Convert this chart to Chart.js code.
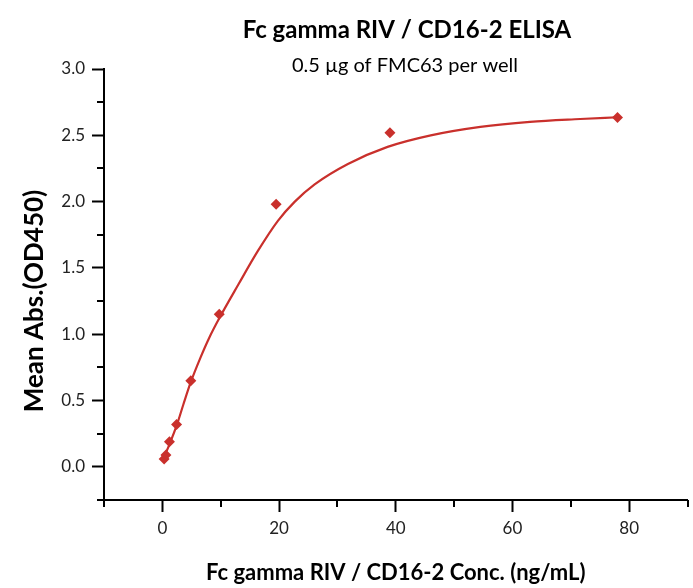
<!DOCTYPE html>
<html>
<head>
<meta charset="utf-8">
<script src="https://cdn.jsdelivr.net/npm/chart.js@4/dist/chart.umd.min.js"></script>
<style>
  html, body { margin: 0; padding: 0; background: #fff; }
  #wrap { width: 693px; height: 588px; }
</style>
</head>
<body>
<div id="wrap"><canvas id="elisa" width="693" height="588"></canvas></div>
<script>
// measured points (ng/mL, OD450)
const concentration = [0.3, 0.61, 1.22, 2.44, 4.88, 9.75, 19.5, 39, 78];
const meanAbs = [0.06, 0.09, 0.19, 0.32, 0.65, 1.15, 1.98, 2.52, 2.635];

// fitted curve
const fitConc = [0.15, 1.22, 2.44, 3.6, 4.88, 6.5, 8, 9.75, 13, 16.4, 19.8, 22.7, 26.1, 31.8, 38.6, 46, 54.5, 63, 71.6, 78];
const fitAbs = [0.06, 0.17, 0.31, 0.47, 0.64, 0.82, 0.97, 1.12, 1.373, 1.63, 1.855, 2.0, 2.13, 2.284, 2.413, 2.5, 2.564, 2.602, 2.623, 2.636];

const xTickValues = [0, 20, 40, 60, 80];
const yTickValues = [0, 0.5, 1.0, 1.5, 2.0, 2.5, 3.0];
const xMinorTicks = [-10, 10, 30, 50, 70, 90];
const yMinorTicks = [-0.25, 0.25, 0.75, 1.25, 1.75, 2.25, 2.75];

const chartTitle = 'Fc gamma RIV / CD16-2 ELISA';
const chartSubtitle = '0.5 \u00b5g of FMC63 per well';
const yTitle = 'Mean Abs.(OD450)';

const red = '#c9302c';
const fontFamily = 'Lato, "Open Sans", sans-serif';

const toPoints = (xs, ys) => xs.map((x, i) => ({ x: x, y: ys[i] }));

// short ticks between the labelled ones, plus the heading texts
const extras = {
  id: 'extras',
  afterDraw(chart) {
    const ctx = chart.ctx;
    const xs = chart.scales.x;
    const ys = chart.scales.y;
    const area = chart.chartArea;
    ctx.save();
    ctx.strokeStyle = '#000';
    ctx.lineWidth = 2;
    ctx.beginPath();
    xMinorTicks.forEach((v) => {
      const px = Math.round(xs.getPixelForValue(v));
      ctx.moveTo(px, area.bottom);
      ctx.lineTo(px, area.bottom + 7);
    });
    yMinorTicks.forEach((v) => {
      const py = Math.round(ys.getPixelForValue(v));
      ctx.moveTo(area.left, py);
      ctx.lineTo(area.left - 7, py);
    });
    ctx.stroke();

    ctx.fillStyle = '#000';
    ctx.textAlign = 'center';
    ctx.textBaseline = 'middle';
    ctx.font = 'bold 24px ' + fontFamily;
    ctx.fillText(chartTitle, 407, 30);
    ctx.font = '20px ' + fontFamily;
    ctx.fillText(chartSubtitle, 405, 66);

    ctx.translate(35, 301);
    ctx.rotate(-Math.PI / 2);
    ctx.font = 'bold 26px ' + fontFamily;
    ctx.fillText(yTitle, 0, 0);
    ctx.restore();
  },
};

const config = {
  type: 'scatter',
  data: {
    datasets: [
      {
        label: 'fit',
        data: toPoints(fitConc, fitAbs),
        showLine: true,
        borderColor: red,
        borderWidth: 2.2,
        pointRadius: 0,
        cubicInterpolationMode: 'monotone',
        order: 2,
      },
      {
        label: 'Mean Abs.',
        data: toPoints(concentration, meanAbs),
        pointStyle: 'rectRot',
        pointRadius: 5.5,
        backgroundColor: red,
        borderColor: red,
        borderWidth: 0,
        order: 1,
      },
    ],
  },
  options: {
    responsive: false,
    animation: false,
    layout: {
      padding: { top: 69, right: 2, left: 0, bottom: 0 },
    },
    plugins: {
      legend: { display: false },
      tooltip: { enabled: false },
    },
    scales: {
      x: {
        type: 'linear',
        min: -10,
        max: 90,
        afterFit: (scale) => { scale.height = 88; },
        afterBuildTicks: (scale) => { scale.ticks = xTickValues.map((v) => ({ value: v })); },
        border: { color: '#000', width: 2 },
        grid: { drawOnChartArea: false, color: '#000', tickLength: 12, tickWidth: 2 },
        ticks: {
          padding: 6,
          color: '#222',
          font: { family: fontFamily, size: 17 },
        },
        title: {
          display: true,
          text: 'Fc gamma RIV / CD16-2 Conc. (ng/mL)',
          color: '#000',
          font: { family: fontFamily, size: 22, weight: 'bold' },
          padding: { top: 0, bottom: 2 },
        },
      },
      y: {
        type: 'linear',
        min: -0.25,
        max: 3.0,
        afterFit: (scale) => { scale.width = 104; },
        afterBuildTicks: (scale) => { scale.ticks = yTickValues.map((v) => ({ value: v })); },
        border: { color: '#000', width: 2 },
        grid: { drawOnChartArea: false, color: '#000', tickLength: 12, tickWidth: 2 },
        ticks: {
          padding: 7,
          color: '#222',
          font: { family: fontFamily, size: 17 },
          callback: (v) => v.toFixed(1),
        },
      },
    },
  },
  plugins: [extras],
};

document.addEventListener('DOMContentLoaded', () => {
  new Chart(document.getElementById('elisa'), config);
});
</script>
</body>
</html>
